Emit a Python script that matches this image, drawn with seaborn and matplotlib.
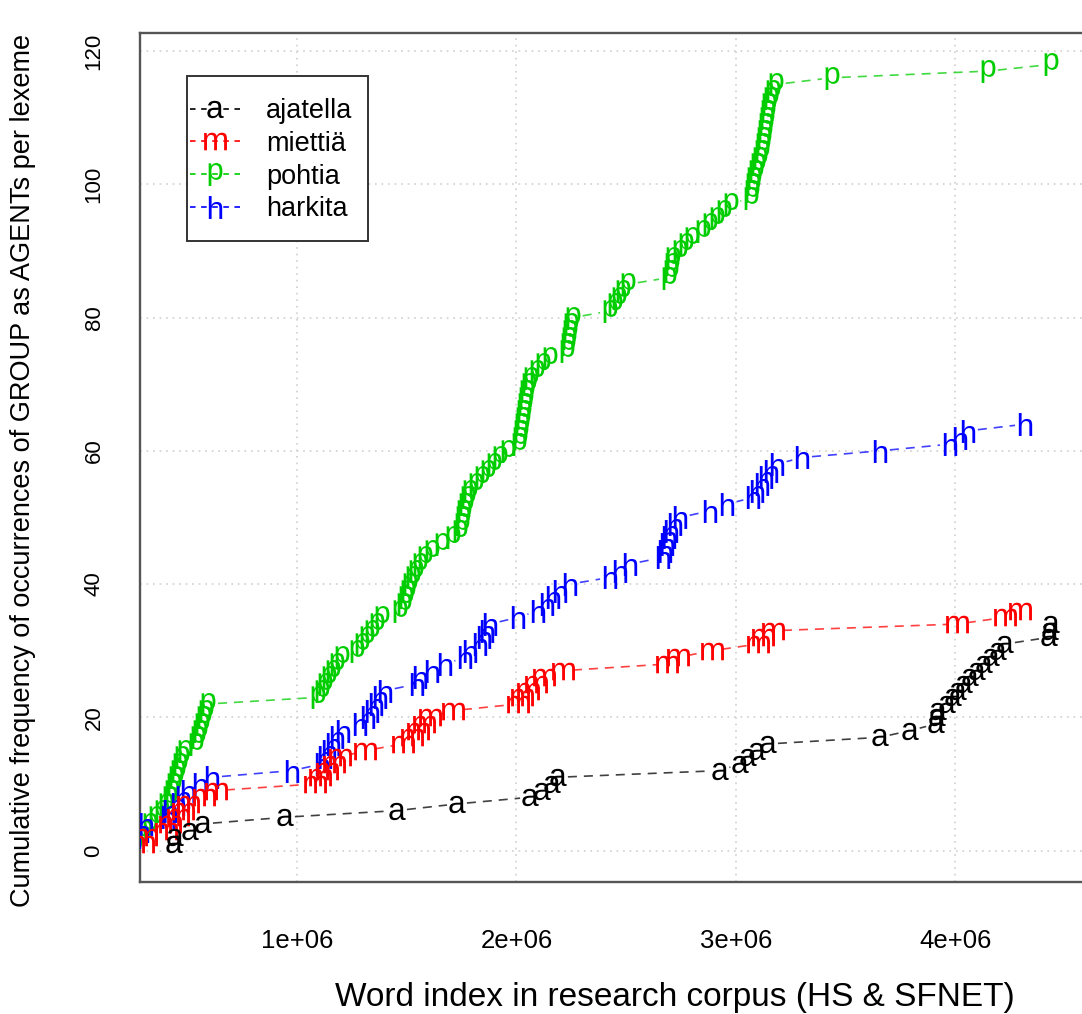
import numpy as np
import pandas as pd
import matplotlib
matplotlib.use("Agg")
import matplotlib.pyplot as plt
from matplotlib.lines import Line2D
from matplotlib.collections import LineCollection
from matplotlib.patches import Rectangle
import seaborn as sns

# Word index (in thousands of words) of each occurrence of GROUP as AGENT
ajatella_k = [440, 444, 513, 572, 945, 1456, 1729, 2062, 2116, 2162, 2189,
              2927, 3018, 3055, 3096, 3146, 3656, 3793, 3911, 3916, 3920,
              3961, 3989, 4011, 4039, 4066, 4098, 4130, 4162, 4194, 4226,
              4426, 4431, 4435]
miettia_k = [298, 312, 403, 421, 458, 481, 503, 576, 631, 1082, 1105, 1137,
             1169, 1196, 1310, 1483, 1524, 1551, 1579, 1606, 1711, 2007, 2025,
             2052, 2089, 2125, 2212, 2686, 2736, 2891, 3100, 3123, 3169, 4007,
             4226, 4294]
pohtia_k = [262, 285, 308, 330, 358, 385, 403, 421, 431, 440, 449, 458, 467,
            476, 490, 540, 549, 558, 567, 576, 585, 595, 1096, 1114, 1128,
            1146, 1164, 1182, 1205, 1273, 1296, 1319, 1342, 1364, 1387, 1469,
            1487, 1497, 1506, 1515, 1528, 1542, 1560, 1583, 1615, 1661, 1711,
            1743, 1752, 1756, 1761, 1770, 1779, 1788, 1815, 1843, 1870, 1898,
            1925, 1961, 2011, 2016, 2020, 2025, 2030, 2034, 2039, 2043, 2048,
            2057, 2066, 2093, 2121, 2153, 2230, 2235, 2239, 2244, 2248, 2257,
            2426, 2449, 2467, 2485, 2508, 2695, 2704, 2708, 2713, 2745, 2772,
            2800, 2850, 2882, 2913, 2945, 2977, 3068, 3073, 3077, 3082, 3091,
            3100, 3109, 3119, 3123, 3128, 3132, 3137, 3141, 3146, 3150, 3160,
            3169, 3182, 3437, 4148, 4435]
harkita_k = [230, 257, 294, 312, 412, 421, 458, 481, 503, 558, 613, 977, 1114,
             1128, 1146, 1164, 1182, 1210, 1287, 1323, 1342, 1360, 1378, 1401,
             1547, 1560, 1615, 1674, 1765, 1788, 1834, 1852, 1865, 1879, 2007,
             2098, 2139, 2166, 2198, 2244, 2426, 2472, 2517, 2667, 2677, 2686,
             2695, 2704, 2722, 2745, 2882, 2959, 3078, 3096, 3119, 3137, 3160,
             3187, 3301, 3656, 3975, 4021, 4057, 4317]

lexemes = ["ajatella", "miettiä", "pohtia", "harkita"]
letters = ["a", "m", "p", "h"]
colors = ["black", "#FF0000", "#00CD00", "#0000FF"]
occurrences = [ajatella_k, miettia_k, pohtia_k, harkita_k]

x_ticks = [1e6, 2e6, 3e6, 4e6]
x_tick_labels = ["1e+06", "2e+06", "3e+06", "4e+06"]
y_ticks = [0, 20, 40, 60, 80, 100, 120]


def cumulative(words_k, name):
    words = np.sort(np.asarray(words_k, dtype=float)) * 1000
    return pd.DataFrame({"word": words,
                         "freq": np.arange(1, len(words) + 1),
                         "lexeme": name})


df = pd.concat([cumulative(w, n) for w, n in zip(occurrences, lexemes)],
               ignore_index=True)

sns.set_theme(style="white")
plt.rcParams["font.family"] = ["Liberation Sans", "DejaVu Sans"]
plt.rcParams["mathtext.fontset"] = "custom"
plt.rcParams["mathtext.rm"] = "Liberation Sans"
plt.rcParams["lines.scale_dashes"] = False

W, H = 1082, 1014
fig = plt.figure(figsize=(W / 100, H / 100), dpi=100)
ax_left, ax_bottom, ax_w, ax_h = 140, 132, 1070, 849
ax = fig.add_axes([ax_left / W, ax_bottom / H, ax_w / W, ax_h / H])
ax.set_xlim(285000, 5160000)
ax.set_ylim(-4.72, 122.72)

color_of = dict(zip(lexemes, colors))
letter_of = dict(zip(lexemes, letters))
size_of = {"ajatella": 12.5, "miettiä": 16.5, "pohtia": 16.5, "harkita": 16.5}
dash = (0, (6.5, 5.0))
gap_px = 10.0


def gapped_segments(sub):
    """Connecting segments between consecutive points, stopped short of each
    letter (points-and-lines style)."""
    pts = ax.transData.transform(sub[["word", "freq"]].to_numpy())
    inv = ax.transData.inverted()
    segs = []
    for p0, p1 in zip(pts[:-1], pts[1:]):
        d = np.hypot(*(p1 - p0))
        if d <= 2 * gap_px:
            continue
        u = (p1 - p0) / d
        segs.append(inv.transform(np.array([p0 + gap_px * u, p1 - gap_px * u])))
    return segs


draw_order = ["pohtia", "harkita", "miettiä", "ajatella"]
for lex in draw_order:
    sub = df[df["lexeme"] == lex]
    lc = LineCollection(gapped_segments(sub), colors=color_of[lex],
                        linewidths=1.2, linestyles=[dash], alpha=0.75,
                        zorder=2)
    ax.add_collection(lc)

for lex in draw_order:
    sub = df[df["lexeme"] == lex]
    sns.scatterplot(data=sub, x="word", y="freq", color=color_of[lex],
                    marker=f"$\\mathrm{{{letter_of[lex]}}}$",
                    s=size_of[lex] ** 2, linewidth=0, ax=ax, legend=False,
                    zorder=3)

ax.set_xlim(285000, 5160000)
ax.set_ylim(-4.72, 122.72)
ax.set_xticks(x_ticks)
ax.set_xticklabels(x_tick_labels)
ax.set_yticks(y_ticks)
ax.set_yticklabels([str(v) for v in y_ticks], rotation=90, va="center")

ax.set_axisbelow(True)
ax.grid(True, color="#CFCFCF", linestyle=(0, (1.2, 3.5)), linewidth=1.2)
for side in ["left", "right", "top", "bottom"]:
    ax.spines[side].set_visible(True)
    ax.spines[side].set_color("#555555")
    ax.spines[side].set_linewidth(1.7)

ax.tick_params(axis="both", direction="out", length=7.5, width=1.3,
               color="#555555", labelcolor="black")
ax.tick_params(axis="x", pad=26, labelsize=18.5)
ax.tick_params(axis="y", pad=18, labelsize=16)

ax.set_xlabel("Word index in research corpus (HS & SFNET)", fontsize=24,
              color="black")
ax.set_ylabel("Cumulative frequency of occurrences of GROUP as AGENTs per lexeme",
              fontsize=19.5, color="black")
ax.xaxis.set_label_coords(0.5, -0.118)
ax.yaxis.set_label_coords(-0.097, 0.485)

# legend box, then the entries inside it
box_x0, box_y0, box_x1, box_y1 = 187, 76, 368, 241


def to_axes(px, py):
    return (px - ax_left) / ax_w, ((H - ax_bottom) - py) / ax_h


bx0, by1 = to_axes(box_x0, box_y0)
bx1, by0 = to_axes(box_x1, box_y1)
ax.add_patch(Rectangle((bx0, by0), bx1 - bx0, by1 - by0, transform=ax.transAxes,
                       facecolor="white", edgecolor="#333333", linewidth=1.4,
                       zorder=4))

handles = [Line2D([0], [0], color=c, linestyle=(0, (4.0, 4.0)), linewidth=1.2,
                  marker=f"$\\mathrm{{{l}}}$", markersize=size_of[n],
                  markeredgewidth=0)
           for n, l, c in zip(lexemes, letters, colors)]
leg = ax.legend(handles, lexemes, loc="upper left",
                bbox_to_anchor=to_axes(190, 98),
                borderaxespad=0, borderpad=0, fontsize=19.5,
                handlelength=1.85, handletextpad=0.95, labelspacing=0.25,
                frameon=False)
leg.set_zorder(5)
for t in leg.get_texts():
    t.set_color("black")

fig.savefig("out.png", dpi=100, facecolor="white")
